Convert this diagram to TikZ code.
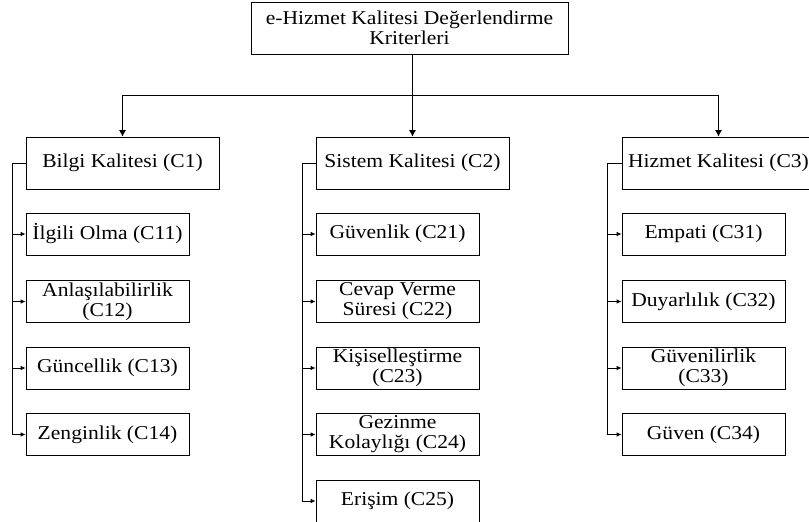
\documentclass[tikz,border=0pt]{standalone}
\usepackage{fontspec}
\setmainfont[FakeStretch=1.1]{Liberation Serif}
\usetikzlibrary{arrows.meta}
\begin{document}
\begin{tikzpicture}[x=1pt,y=-1pt,
  every node/.style={font=\fontsize{19.6}{20}\selectfont, align=center, inner sep=0pt, draw, line width=0.8pt},
  topbox/.style={minimum width=317pt, minimum height=52pt},
  mainbox/.style={minimum width=193pt, minimum height=52pt},
  subbox/.style={minimum width=163pt, minimum height=42pt},
  conn/.style={line width=0.8pt},
  arr/.style={line width=0.8pt, -{Latex[length=5pt,width=4.5pt]}},
  bigarr/.style={line width=0.8pt, -{Latex[length=6.5pt,width=7pt]}}]
\useasboundingbox (0,0) rectangle (809,522);
% top
\node[topbox] (top) at (409.5,28) {e-Hizmet Kalitesi Değerlendirme\\Kriterleri};
% level 1
\node[mainbox] (bil) at (122.5,163) {Bilgi Kalitesi (C1)};
\node[mainbox] (sis) at (412.5,163) {Sistem Kalitesi (C2)};
\node[mainbox] (hiz) at (718.5,163) {Hizmet Kalitesi (C3)};
% group 1
\node[subbox] (c11) at (107.5,234) {İlgili Olma (C11)};
\node[subbox] (c12) at (107.5,301.5) {Anlaşılabilirlik\\(C12)};
\node[subbox] (c13) at (107.5,368) {Güncellik (C13)};
\node[subbox] (c14) at (107.5,434.5) {Zenginlik (C14)};
% group 2
\node[subbox] (c21) at (397.5,234) {Güvenlik (C21)};
\node[subbox] (c22) at (397.5,301.5) {Cevap Verme\\Süresi (C22)};
\node[subbox] (c23) at (397.5,368) {Kişiselleştirme\\(C23)};
\node[subbox] (c24) at (397.5,434.5) {Gezinme\\Kolaylığı (C24)};
\node[subbox] (c25) at (397.5,501) {Erişim (C25)};
% group 3
\node[subbox] (c31) at (703.5,234) {Empati (C31)};
\node[subbox] (c32) at (703.5,301.5) {Duyarlılık (C32)};
\node[subbox] (c33) at (703.5,368) {Güvenilirlik\\(C33)};
\node[subbox] (c34) at (703.5,434.5) {Güven (C34)};
% connectors from top
\coordinate (bus) at (0,95);
\draw[bigarr] (top.south -| sis.north) -- (sis.north);
\draw[conn] (bil.north |- bus) -- (hiz.north |- bus);
\draw[bigarr] (bil.north |- bus) -- (bil.north);
\draw[bigarr] (hiz.north |- bus) -- (hiz.north);
% group rails
\coordinate (g1) at (12,0);
\coordinate (g2) at (302,0);
\coordinate (g3) at (607,0);
\draw[conn] (bil.west) -- (g1 |- bil.west) -- (g1 |- c14.west);
\draw[conn] (sis.west) -- (g2 |- sis.west) -- (g2 |- c25.west);
\draw[conn] (hiz.west) -- (g3 |- hiz.west) -- (g3 |- c34.west);
\foreach \c in {c11,c12,c13,c14} \draw[arr] (g1 |- \c.west) -- (\c.west);
\foreach \c in {c21,c22,c23,c24,c25} \draw[arr] (g2 |- \c.west) -- (\c.west);
\foreach \c in {c31,c32,c33,c34} \draw[arr] (g3 |- \c.west) -- (\c.west);
\end{tikzpicture}
\end{document}
